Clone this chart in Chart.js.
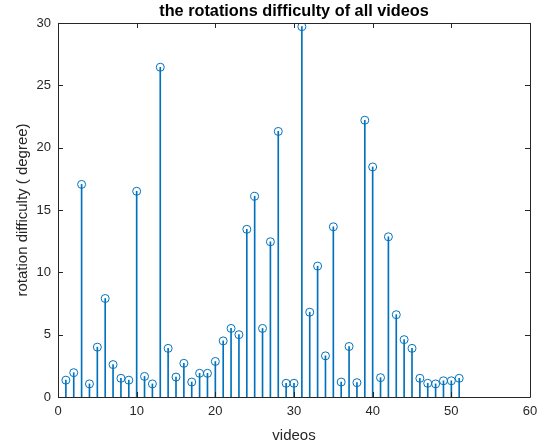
<!DOCTYPE html>
<html>
<head>
<meta charset="utf-8">
<script src="https://cdn.jsdelivr.net/npm/chart.js@4.4.1/dist/chart.umd.min.js"></script>
<style>
html,body{margin:0;padding:0;background:#fff;}
#wrap{width:548px;height:448px;position:relative;}
</style>
</head>
<body>
<div id="wrap"><canvas id="c" width="548" height="448"></canvas></div>
<script>
const videos = [1,2,3,4,5,6,7,8,9,10,11,12,13,14,15,16,17,18,19,20,21,22,23,24,25,26,27,28,29,30,31,32,33,34,35,36,37,38,39,40,41,42,43,44,45,46,47,48,49,50,51];
const difficulty = [1.35,1.95,17.05,1.05,4.0,7.9,2.6,1.5,1.35,16.5,1.65,1.05,26.45,3.9,1.6,2.7,1.2,1.9,1.9,2.85,4.5,5.5,5.0,13.45,16.1,5.5,12.45,21.3,1.1,1.1,29.7,6.8,10.5,3.3,13.65,1.2,4.05,1.15,22.2,18.45,1.55,12.85,6.6,4.6,3.9,1.5,1.1,1.05,1.3,1.3,1.5];
const xTicks = [0,10,20,30,40,50,60];
const yTicks = [0,5,10,15,20,25,30];

const points = videos.map((v,i)=>({x:v,y:difficulty[i]}));
const blue = '#0072BD';
const axisColor = '#262626';

const boxPlugin = {
  id:'box',
  afterDatasetsDraw(chart){
    const {ctx, chartArea:a, scales} = chart;
    ctx.save();
    ctx.strokeStyle = axisColor;
    ctx.lineWidth = 1;
    ctx.beginPath();
    ctx.rect(Math.round(a.left)+0.5, Math.round(a.top)+0.5, Math.round(a.right-a.left), Math.round(a.bottom-a.top));
    ctx.stroke();
    const tl = 5;
    ctx.beginPath();
    xTicks.forEach(t=>{
      const px = Math.round(scales.x.getPixelForValue(t))+0.5;
      ctx.moveTo(px, a.bottom); ctx.lineTo(px, a.bottom-tl);
      ctx.moveTo(px, a.top); ctx.lineTo(px, a.top+tl);
    });
    yTicks.forEach(t=>{
      const py = Math.round(scales.y.getPixelForValue(t))+0.5;
      ctx.moveTo(a.left, py); ctx.lineTo(a.left+tl, py);
      ctx.moveTo(a.right, py); ctx.lineTo(a.right-tl, py);
    });
    ctx.stroke();
    ctx.restore();
  }
};

new Chart(document.getElementById('c'), {
  type:'bar',
  data:{
    datasets:[
      {type:'bar', data:points, backgroundColor:blue, borderWidth:0, barThickness:1, grouped:false, order:2},
      {type:'line', data:points, showLine:false, pointStyle:'circle', pointRadius:4, pointBorderWidth:1,
       pointBorderColor:blue, pointBackgroundColor:'rgba(0,0,0,0)', order:1}
    ]
  },
  options:{
    responsive:false,
    animation:false,
    layout:{padding:{top:0,right:18,bottom:0,left:0}},
    plugins:{
      legend:{display:false},
      tooltip:{enabled:false},
      title:{display:true, text:'the rotations difficulty of all videos', fullSize:false,
        color:'#000', font:{family:'Arial, "Liberation Sans", sans-serif', size:16.3, weight:'bold', lineHeight:1.2},
        padding:{top:2,bottom:1.4}}
    },
    scales:{
      x:{type:'linear', min:0, max:60, offset:false,
        afterBuildTicks(s){ s.ticks = xTicks.map(v=>({value:v})); },
        afterFit(s){ s.height = 51; },
        grid:{display:false, drawTicks:false}, border:{display:false},
        ticks:{color:axisColor, padding:7, maxRotation:0, font:{family:'Arial, "Liberation Sans", sans-serif', size:13}},
        title:{display:true, text:'videos', color:axisColor, padding:{top:0,bottom:3},
          font:{family:'Arial, "Liberation Sans", sans-serif', size:15, lineHeight:1.2}}
      },
      y:{type:'linear', min:0, max:30,
        afterBuildTicks(s){ s.ticks = yTicks.map(v=>({value:v})); },
        afterFit(s){ s.width = 58; },
        grid:{display:false, drawTicks:false}, border:{display:false},
        ticks:{color:axisColor, padding:7, font:{family:'Arial, "Liberation Sans", sans-serif', size:13}},
        title:{display:true, text:'rotation difficulty ( degree)', color:axisColor, padding:{top:14,bottom:0},
          font:{family:'Arial, "Liberation Sans", sans-serif', size:15, lineHeight:1.2}}
      }
    }
  },
  plugins:[boxPlugin]
});
</script>
</body>
</html>
